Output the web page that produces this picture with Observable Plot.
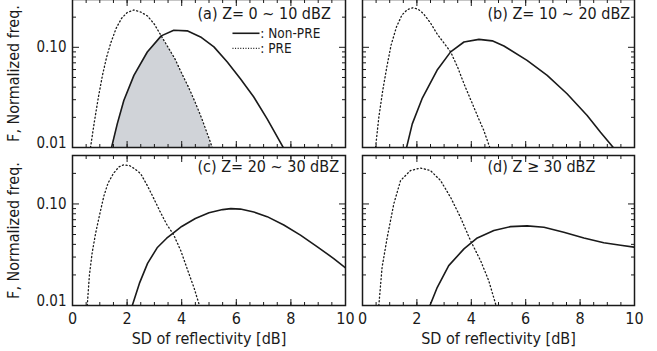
<!DOCTYPE html>
<html><head><meta charset="utf-8">
<script src="https://cdn.jsdelivr.net/npm/d3@7"></script>
<script src="https://cdn.jsdelivr.net/npm/@observablehq/plot@0.6"></script>
<style>
body{margin:0;background:#fff;}
#fig{position:relative;width:657px;height:351px;overflow:hidden;background:#fff;}
#fig svg{position:absolute;}
</style></head><body><div id="fig"></div>
<script>
const FONT = '"DejaVu Sans Condensed","Liberation Sans",sans-serif';

const titles = ["(a) Z= 0 ~ 10 dBZ", "(b) Z= 10 ~ 20 dBZ", "(c) Z= 20 ~ 30 dBZ", "(d) Z \u2265 30 dBZ"];
const legendLabels = [": Non-PRE", ": PRE"];
const xLabel = "SD of reflectivity [dB]";
const yLabel = "F, Normalized freq.";
const xMajor = [0, 2, 4, 6, 8, 10];
const xMinor = [0, 0.5, 1, 1.5, 2, 2.5, 3, 3.5, 4, 4.5, 5, 5.5, 6, 6.5, 7, 7.5, 8, 8.5, 9, 9.5, 10];
const yMajor = [0.01, 0.1];
const yMinor = [0.02, 0.03, 0.04, 0.05, 0.06, 0.07, 0.08, 0.09, 0.2, 0.3];

// PRE (dotted) and Non-PRE (solid) normalized frequency vs SD [dB]
const preA = [[0.66,0.01],[0.8,0.018],[0.95,0.032],[1.1,0.053],[1.25,0.08],[1.4,0.11],[1.6,0.155],[1.8,0.195],[2.0,0.222],[2.25,0.236],[2.5,0.225],[2.75,0.205],[3.0,0.17],[3.25,0.13],[3.5,0.1],[3.75,0.077],[4.0,0.055],[4.25,0.04],[4.5,0.028],[4.75,0.019],[5.12,0.01]];
const nonA = [[1.43,0.01],[1.64,0.0172],[1.88,0.0295],[2.25,0.0525],[2.74,0.0898],[3.25,0.13],[3.71,0.148],[4.2,0.146],[4.69,0.127],[5.18,0.101],[5.67,0.0713],[6.15,0.0486],[6.64,0.0319],[7.13,0.0193],[7.72,0.01]];
const crossA = 3.25;

const preB = [[0.48,0.01],[0.6,0.02],[0.75,0.038],[0.9,0.065],[1.05,0.105],[1.25,0.16],[1.45,0.21],[1.65,0.238],[1.85,0.248],[2.05,0.24],[2.25,0.215],[2.5,0.175],[2.75,0.135],[3.0,0.11],[3.24,0.09],[3.5,0.063],[3.75,0.042],[4.0,0.029],[4.25,0.02],[4.45,0.015],[4.68,0.01]];
const nonB = [[1.62,0.01],[1.83,0.0172],[2.19,0.0307],[2.74,0.0589],[3.24,0.09],[3.73,0.113],[4.28,0.12],[4.77,0.116],[5.2,0.103],[6.05,0.0741],[6.79,0.0525],[7.52,0.0344],[8.26,0.0209],[8.75,0.0142],[9.22,0.01]];

const preC = [[0.54,0.01],[0.62,0.02],[0.72,0.033],[0.85,0.052],[1.0,0.08],[1.15,0.12],[1.3,0.16],[1.5,0.2],[1.7,0.232],[1.88,0.243],[2.1,0.238],[2.3,0.22],[2.5,0.198],[2.75,0.15],[3.0,0.11],[3.2,0.085],[3.45,0.063],[3.7,0.05],[3.96,0.035],[4.2,0.023],[4.45,0.015],[4.65,0.01]];
const nonC = [[2.19,0.01],[2.45,0.0165],[2.75,0.026],[3.1,0.037],[3.45,0.046],[3.7,0.052],[4.0,0.06],[4.5,0.072],[5.0,0.082],[5.5,0.088],[5.8,0.09],[6.15,0.089],[6.64,0.0834],[7.13,0.075],[7.74,0.062],[8.35,0.0493],[8.97,0.0378],[9.57,0.029],[10,0.0235]];

const preD = [[0.6,0.01],[0.72,0.0238],[0.91,0.047],[1.15,0.1],[1.4,0.17],[1.76,0.213],[2.13,0.226],[2.5,0.213],[2.87,0.17],[3.24,0.116],[3.6,0.074],[3.97,0.0436],[4.34,0.0277],[4.64,0.0176],[4.91,0.01]];
const nonD = [[2.48,0.01],[2.75,0.0151],[3.17,0.0247],[3.73,0.0361],[4.22,0.0463],[4.83,0.0547],[5.44,0.0598],[6.05,0.0608],[6.67,0.0589],[7.4,0.0526],[8.14,0.0463],[8.87,0.0415],[9.49,0.0392],[10,0.0375]];

const shadeA = nonA.filter(d => d[0] <= crossA).concat(preA.filter(d => d[0] > crossA));

const INK = "#1a1a1a";
const fig = document.getElementById("fig");

function panel(p) {
  const ml = p.left ? 72 : 8, mr = 8, mt = 4, mb = p.bottom ? 46 : 4;
  const marks = [];
  if (p.shade) marks.push(Plot.area(p.shade, {x1: d => d[0], y1: 0.01, y2: d => d[1], fill: "#d0d3d8"}));
  marks.push(Plot.line(p.pre, {x: d => d[0], y: d => d[1], stroke: INK, strokeWidth: 1.3, strokeDasharray: "1.1,2.6", clip: true}));
  marks.push(Plot.line(p.non, {x: d => d[0], y: d => d[1], stroke: INK, strokeWidth: 1.6, clip: true}));
  // inward ticks on all four sides
  marks.push(Plot.axisX(xMinor, {anchor: "bottom", tickSize: 3, dy: -3, fill: "none", stroke: INK, label: null}));
  marks.push(Plot.axisX(xMajor, {anchor: "bottom", tickSize: 6, dy: -6, fill: "none", stroke: INK, label: null}));
  marks.push(Plot.axisX(xMinor, {anchor: "top", tickSize: 3, dy: 3, fill: "none", stroke: INK, label: null}));
  marks.push(Plot.axisX(xMajor, {anchor: "top", tickSize: 6, dy: 6, fill: "none", stroke: INK, label: null}));
  marks.push(Plot.axisY(yMinor, {anchor: "left", tickSize: 4, dx: 4, fill: "none", stroke: INK, label: null}));
  marks.push(Plot.axisY(yMajor, {anchor: "left", tickSize: 7, dx: 7, fill: "none", stroke: INK, label: null}));
  marks.push(Plot.axisY(yMinor, {anchor: "right", tickSize: 4, dx: -4, fill: "none", stroke: INK, label: null}));
  marks.push(Plot.axisY(yMajor, {anchor: "right", tickSize: 7, dx: -7, fill: "none", stroke: INK, label: null}));
  marks.push(Plot.frame({stroke: INK, strokeWidth: 1.5}));
  if (p.left) {
    marks.push(Plot.axisY([yMajor[1]], {anchor: "left", tickSize: 0, tickPadding: 6, tickFormat: d3.format(".2f"), fontSize: 15, fill: INK, label: null}));
    marks.push(Plot.axisY([yMajor[0]], {anchor: "left", tickSize: 0, tickPadding: 6, dy: -4, tickFormat: d3.format(".2f"), fontSize: 15, fill: INK, label: null}));
    marks.push(Plot.text([yLabel], {frameAnchor: "left", dx: -59, rotate: -90, textAnchor: "middle", lineAnchor: "middle", fontSize: 16, fill: INK}));
  }
  if (p.bottom) {
    marks.push(Plot.axisX(xMajor, {anchor: "bottom", tickSize: 0, tickPadding: 7, tickFormat: d => d, fontSize: 16, fill: INK, label: null}));
    marks.push(Plot.text([xLabel], {frameAnchor: "bottom", dy: 33, lineAnchor: "middle", fontSize: 16, fill: INK}));
  }
  marks.push(Plot.text([p.title], {frameAnchor: "top-left", dx: 125, dy: p.titleDy, textAnchor: "start", lineAnchor: "middle", fontSize: 16, fill: INK}));
  if (p.legend) {
    marks.push(Plot.link([0], {x1: 5.86, x2: 6.85, y1: 0.138, y2: 0.138, stroke: INK, strokeWidth: 1.6}));
    marks.push(Plot.link([0], {x1: 5.86, x2: 6.85, y1: 0.0977, y2: 0.0977, stroke: INK, strokeWidth: 1.2, strokeDasharray: "1,1.6"}));
    marks.push(Plot.text([legendLabels[0]], {x: 6.88, y: 0.138, textAnchor: "start", lineAnchor: "middle", fontSize: 13.5, fill: INK}));
    marks.push(Plot.text([legendLabels[1]], {x: 6.88, y: 0.0977, textAnchor: "start", lineAnchor: "middle", fontSize: 13.5, fill: INK}));
  }
  const svg = Plot.plot({
    width: ml + p.fw + mr, height: mt + p.fh + mb,
    marginLeft: ml, marginRight: mr, marginTop: mt, marginBottom: mb,
    x: {domain: [0, 10]},
    y: {type: "log", domain: [0.01, 0.3]},
    style: {fontFamily: FONT, fontSize: "15px", background: "transparent", overflow: "visible", color: INK},
    marks
  });
  svg.style.left = (p.fx - ml) + "px";
  svg.style.top = (p.fy - mt) + "px";
  fig.appendChild(svg);
}

panel({pre: preA, non: nonA, shade: shadeA, legend: true, title: titles[0], left: true, bottom: false, fx: 72, fy: -1, fw: 273, fh: 148, titleDy: 14.5});
panel({pre: preB, non: nonB, title: titles[1], left: false, bottom: false, fx: 362, fy: -1, fw: 272, fh: 148, titleDy: 14.5});
panel({pre: preC, non: nonC, title: titles[2], left: true, bottom: true, fx: 72, fy: 155, fw: 273, fh: 150, titleDy: 11.5});
panel({pre: preD, non: nonD, title: titles[3], left: false, bottom: true, fx: 362, fy: 155, fw: 272, fh: 150, titleDy: 11.5});
</script></body></html>
